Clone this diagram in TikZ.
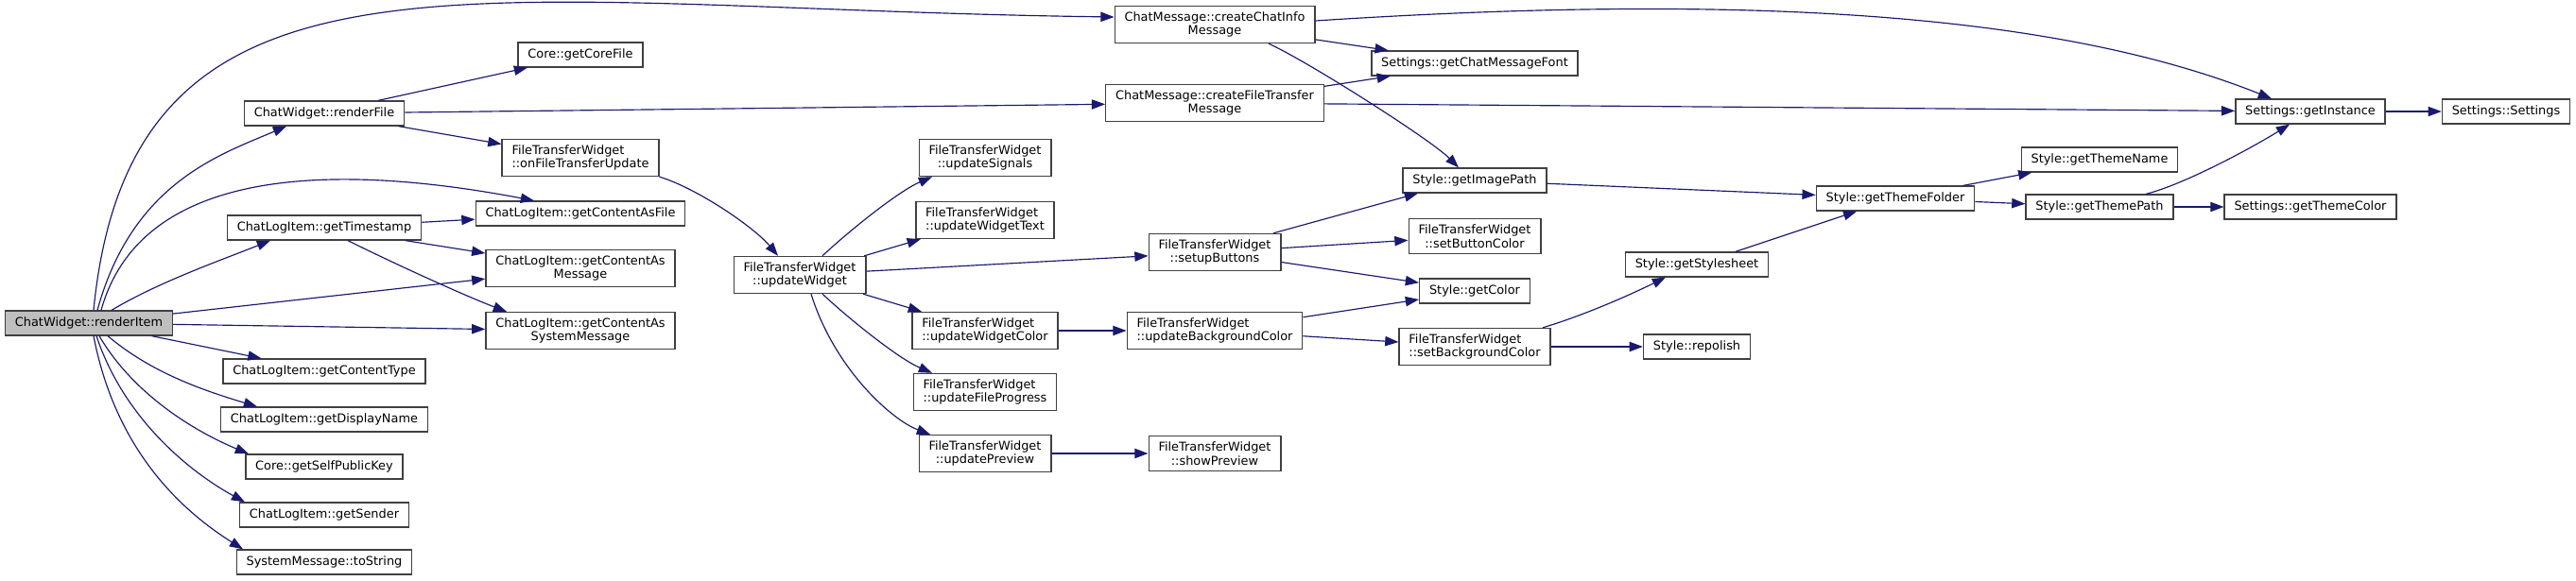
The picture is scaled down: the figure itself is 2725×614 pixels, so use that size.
\documentclass[tikz,border=0pt]{standalone}
\usepackage{fontspec}
\setmainfont{DejaVu Sans}
\usetikzlibrary{arrows.meta,calc}
\definecolor{edgeblue}{HTML}{191970}
\definecolor{rootgrey}{HTML}{BFBFBF}

\begin{document}
\begin{tikzpicture}[x=0.775pt,y=0.775pt]
        \tikzset{FuncStyle/.style={draw=black!75, line width=1.1pt, fill=white,
          inner xsep=8pt, inner ysep=4.5pt, minimum height=20pt, align=center,
          font=\fontsize{10}{11.5}\selectfont}}
        \tikzset{RootStyle/.style={FuncStyle, fill=rootgrey}}
        \tikzset{CallStyle/.style={draw=edgeblue, line width=0.9pt,
          -{Triangle[length=11pt,width=8pt]}}}
        \useasboundingbox (0,0) rectangle (2725,614);
        \node[RootStyle] (RI) at (94,272) {ChatWidget::renderItem};
        \node[FuncStyle] (RF) at (343,494) {ChatWidget::renderFile};
        \node[FuncStyle] (GT) at (343,373) {ChatLogItem::getTimestamp};
        \node[FuncStyle] (GCT) at (343,221) {ChatLogItem::getContentType};
        \node[FuncStyle] (GDN) at (343,170) {ChatLogItem::getDisplayName};
        \node[FuncStyle] (GSPK) at (343,120) {Core::getSelfPublicKey};
        \node[FuncStyle] (GS) at (343,69) {ChatLogItem::getSender};
        \node[FuncStyle] (TS) at (343,19) {SystemMessage::toString};
        \node[FuncStyle] (CF) at (614,556) {Core::getCoreFile};
        \node[FuncStyle, align=left] (OFTU) at (614,447) {FileTransferWidget\\::onFileTransferUpdate};
        \node[FuncStyle] (GCAF) at (614,388) {ChatLogItem::getContentAsFile};
        \node[FuncStyle] (GCAM) at (614,330) {ChatLogItem::getContentAs\\Message};
        \node[FuncStyle] (GCASM) at (614,264) {ChatLogItem::getContentAs\\SystemMessage};
        \node[FuncStyle] (UW) at (846,323) {FileTransferWidget\\::updateWidget};
        \node[FuncStyle] (USig) at (1042,447) {FileTransferWidget\\::updateSignals};
        \node[FuncStyle, align=left] (UWT) at (1042,381) {FileTransferWidget\\::updateWidgetText};
        \node[FuncStyle, align=left] (UWC) at (1042,264) {FileTransferWidget\\::updateWidgetColor};
        \node[FuncStyle, align=left] (UFP) at (1042,199) {FileTransferWidget\\::updateFileProgress};
        \node[FuncStyle] (UP) at (1042,134) {FileTransferWidget\\::updatePreview};
        \node[FuncStyle] (CCI) at (1285,588) {ChatMessage::createChatInfo\\Message};
        \node[FuncStyle] (CFT) at (1285,505) {ChatMessage::createFileTransfer\\Message};
        \node[FuncStyle] (SB) at (1285,347) {FileTransferWidget\\::setupButtons};
        \node[FuncStyle, align=left] (UBC) at (1285,264) {FileTransferWidget\\::updateBackgroundColor};
        \node[FuncStyle] (SP) at (1285,134) {FileTransferWidget\\::showPreview};
        \node[FuncStyle] (GCMF) at (1560,547) {Settings::getChatMessageFont};
        \node[FuncStyle] (GIP) at (1560,423) {Style::getImagePath};
        \node[FuncStyle] (SBtn) at (1560,364) {FileTransferWidget\\::setButtonColor};
        \node[FuncStyle] (GC) at (1560,306) {Style::getColor};
        \node[FuncStyle, align=left] (SBC) at (1560,247) {FileTransferWidget\\::setBackgroundColor};
        \node[FuncStyle] (GSS) at (1795,334) {Style::getStylesheet};
        \node[FuncStyle] (RP) at (1795,247) {Style::repolish};
        \node[FuncStyle] (GTF) at (2005,404) {Style::getThemeFolder};
        \node[FuncStyle] (GTN) at (2221,445) {Style::getThemeName};
        \node[FuncStyle] (GTP) at (2221,395) {Style::getThemePath};
        \node[FuncStyle] (GTC) at (2444,395) {Settings::getThemeColor};
        \node[FuncStyle] (GI) at (2444,496) {Settings::getInstance};
        \node[FuncStyle] (SS) at (2651,496) {Settings::Settings};
        \draw[CallStyle] ($(RI.north)+(5,0)$) .. controls +(41,415) and +(-678,9) .. ($(CCI.west)+(0,8)$);
        \draw[CallStyle] ($(RI.north)+(9,0)$) .. controls +(37,135) and +(-70,-30) .. ($(RF.south)+(-40,0)$);
        \draw[CallStyle] ($(RI.north)+(13,0)$) .. controls +(43,155) and +(-205,39) .. ($(GCAF.north)+(-49,0)$);
        \draw[CallStyle] ($(RI.north)+(24,0)$) .. controls +(50,30) and +(-50,-20) .. ($(GT.south)+(-57,0)$);
        \draw[CallStyle] (RI) -- (GCAM);
        \draw[CallStyle] (RI) -- (GCASM);
        \draw[CallStyle] (RI) -- (GCT);
        \draw[CallStyle] ($(RI.south)+(20,0)$) .. controls +(45,-38) and +(-60,18) .. ($(GDN.north)+(-71,0)$);
        \draw[CallStyle] ($(RI.south)+(11,0)$) .. controls +(35,-60) and +(-60,25) .. ($(GSPK.north)+(-80,0)$);
        \draw[CallStyle] ($(RI.south)+(8,0)$) .. controls +(30,-90) and +(-55,30) .. ($(GS.north)+(-84,0)$);
        \draw[CallStyle] ($(RI.south)+(5,0)$) .. controls +(25,-130) and +(-55,35) .. ($(TS.north)+(-86,0)$);
        \draw[CallStyle] ($(RF.north)+(57,0)$) -- ($(CF.south)+(-56,0)$);
        \draw[CallStyle] (RF) -- (CFT);
        \draw[CallStyle] (RF) -- (OFTU);
        \draw[CallStyle] (OFTU.south east) .. controls +(40,-12) and +(-25,30) .. ($(UW.north)+(-23,0)$);
        \draw[CallStyle] (GT) -- (GCAF);
        \draw[CallStyle] (GT) -- (GCAM);
        \draw[CallStyle] ($(GT.south)+(25,0)$) .. controls +(50,-25) and +(-40,15) .. ($(GCASM.north)+(-78,0)$);
        \draw[CallStyle] ($(UW.north)+(24,0)$) .. controls +(30,28) and +(-35,-15) .. ($(USig.south)+(-56,0)$);
        \draw[CallStyle] (UW) -- (UWT);
        \draw[CallStyle] (UW) -- (SB);
        \draw[CallStyle] (UW) -- (UWC);
        \draw[CallStyle] ($(UW.south)+(24,0)$) .. controls +(30,-28) and +(-35,15) .. ($(UFP.north)+(-56,0)$);
        \draw[CallStyle] ($(UW.south)+(12,0)$) .. controls +(25,-80) and +(-40,15) .. ($(UP.north)+(-58,0)$);
        \draw[CallStyle] (UWC) -- (UBC);
        \draw[CallStyle] (UP) -- (SP);
        \draw[CallStyle] (CCI) -- (GCMF);
        \draw[CallStyle] ($(CCI.south)+(57,0)$) .. controls +(40,-18) and +(-30,30) .. ($(GIP.north)+(-17,0)$);
        \draw[CallStyle] ($(CCI.east)+(0,4)$) .. controls +(507,33) and +(-203,81) .. ($(GI.north)+(-41,0)$);
        \draw[CallStyle] (CFT) -- (GCMF);
        \draw[CallStyle] (CFT) -- (GI);
        \draw[CallStyle] ($(SB.north)+(62,0)$) -- ($(GIP.south)+(-60,0)$);
        \draw[CallStyle] (SB) -- (SBtn);
        \draw[CallStyle] (SB) -- (GC);
        \draw[CallStyle] (UBC) -- (GC);
        \draw[CallStyle] (UBC) -- (SBC);
        \draw[CallStyle] (GIP) -- (GTF);
        \draw[CallStyle] ($(SBC.north)+(72,0)$) .. controls +(40,12) and +(-45,-22) .. ($(GSS.south)+(-33,0)$);
        \draw[CallStyle] (SBC) -- (RP);
        \draw[CallStyle] (GSS) -- (GTF);
        \draw[CallStyle] (GTF) -- (GTN);
        \draw[CallStyle] (GTF) -- (GTP);
        \draw[CallStyle] ($(GTP.north)+(49,0)$) .. controls +(40,10) and +(-40,-25) .. ($(GI.south)+(-22,0)$);
        \draw[CallStyle] (GTP) -- (GTC);
        \draw[CallStyle] (GI) -- (SS);
\end{tikzpicture}
\end{document}
